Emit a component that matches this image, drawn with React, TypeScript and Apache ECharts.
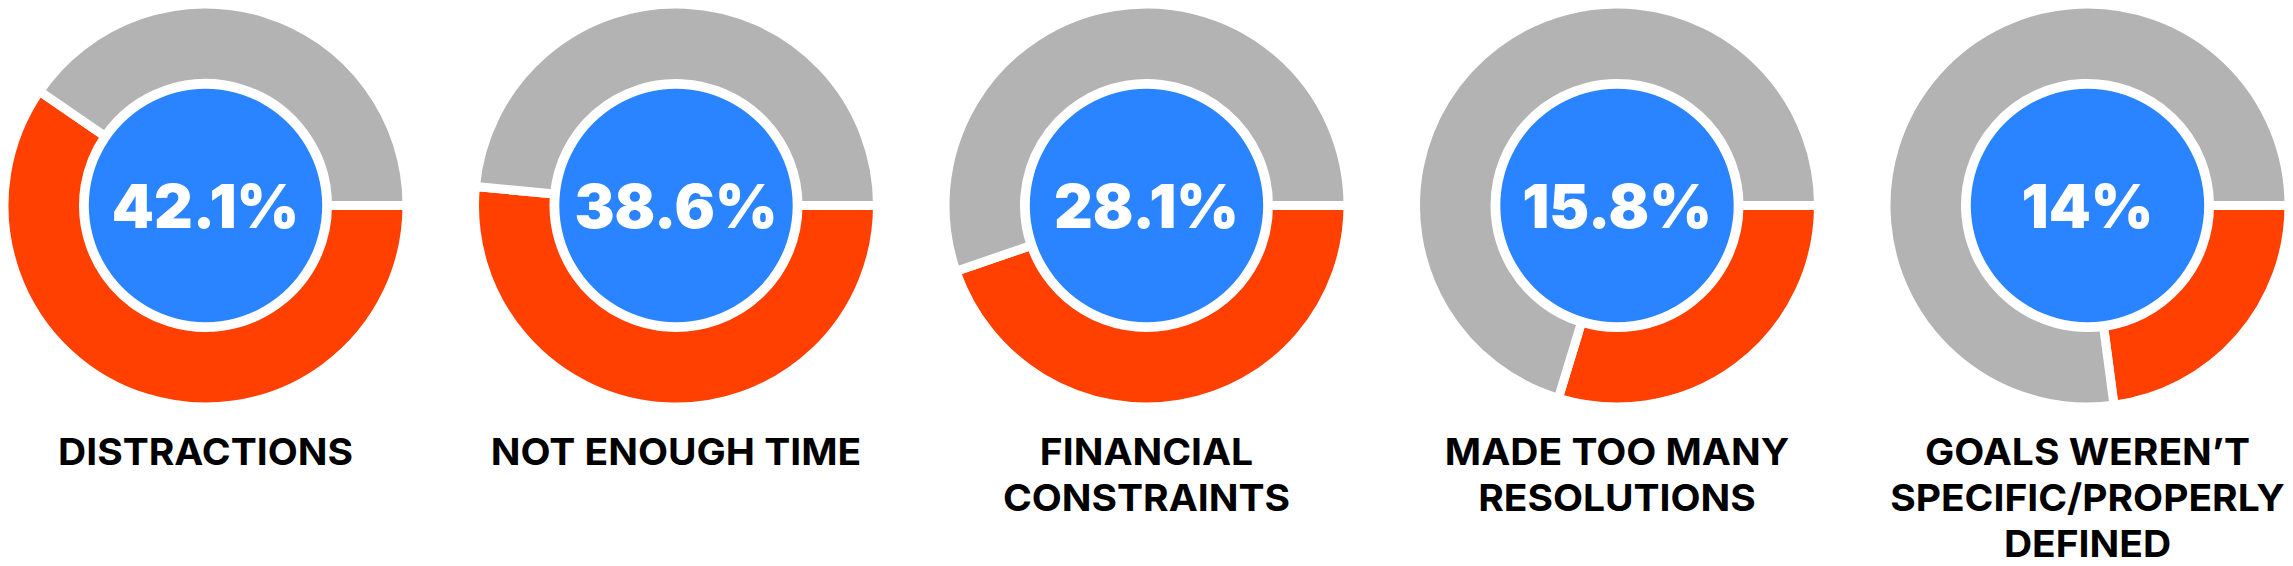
import React, { useEffect, useRef } from "react";
import * as echarts from "echarts";

// ---- data ----
const categories = [
  "DISTRACTIONS",
  "NOT ENOUGH TIME",
  "FINANCIAL\nCONSTRAINTS",
  "MADE TOO MANY\nRESOLUTIONS",
  "GOALS WEREN’T\nSPECIFIC/PROPERLY\nDEFINED",
];
const percentages = [42.1, 38.6, 28.1, 15.8, 14];
// share of each ring painted red, as drawn in the picture (percent of the full ring)
const ringRedShare = [59.6, 51.5, 44.7, 29.7, 22.9];

// ---- style ----
const RED = "#FF4000";
const GRAY = "#B3B3B3";
const BLUE = "#2A83FF";
const W = 2293;
const H = 566;
const CX0 = 205.5;
const STEP = 470.5;
const CY = 205.5;
const FONT = "Inter, 'Open Sans', 'Noto Sans', sans-serif";

export default function App() {
  const ref = useRef<HTMLDivElement>(null);
  useEffect(() => {
    if (!ref.current) return;
    const chart = echarts.init(ref.current, undefined, { renderer: "svg" });
    const series: any[] = [];
    percentages.forEach((p, i) => {
      const cx = CX0 + i * STEP;
      series.push({
        type: "pie",
        center: [cx, CY],
        radius: [122, 201.5],
        startAngle: 0,
        clockwise: true,
        silent: true,
        label: { show: false },
        labelLine: { show: false },
        itemStyle: { borderColor: "#ffffff", borderWidth: 9 },
        data: [
          { value: ringRedShare[i], itemStyle: { color: RED } },
          { value: 100 - ringRedShare[i], itemStyle: { color: GRAY } },
        ],
      });
      series.push({
        type: "pie",
        center: [cx, CY],
        radius: [0, 116.7],
        silent: true,
        labelLine: { show: false },
        label: {
          show: true,
          position: "center",
          formatter: "{c}%",
          color: "#ffffff",
          fontSize: 60,
          fontWeight: 900,
          fontFamily: FONT,
        },
        data: [{ value: p, itemStyle: { color: BLUE } }],
      });
    });
    const graphic = categories.map((c, i) => ({
      type: "text",
      x: CX0 + i * STEP,
      y: 428,
      scaleX: 1.04,
      silent: true,
      style: {
        text: c,
        x: 0,
        y: 0,
        align: "center",
        verticalAlign: "top",
        textAlign: "center",
        textVerticalAlign: "top",
        fontSize: 37.5,
        fontWeight: 700,
        fontFamily: FONT,
        lineHeight: 46,
        fill: "#000000",
      },
    }));
    chart.setOption({
      animation: false,
      backgroundColor: "#ffffff",
      series,
      graphic,
    });
    return () => chart.dispose();
  }, []);
  return (
    <div
      ref={ref}
      style={{ position: "fixed", left: 0, top: 0, width: W, height: H }}
    />
  );
}
